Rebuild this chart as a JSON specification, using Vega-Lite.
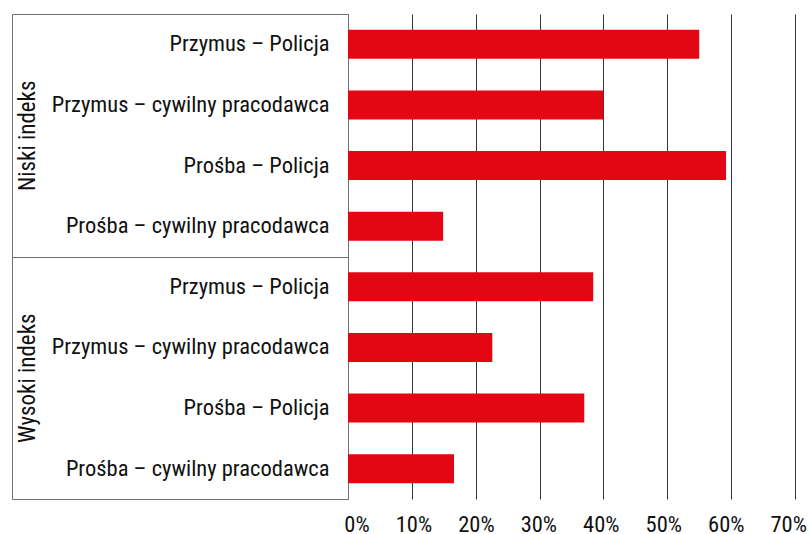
{
  "$schema": "https://vega.github.io/schema/vega-lite/v6.json",
  "width": 447,
  "height": 485,
  "padding": {"left": 11, "top": 13, "right": 5, "bottom": 0},
  "background": "white",
  "config": {
    "view": {"stroke": null},
    "font": "Roboto Condensed, Liberation Sans Narrow, Roboto, sans-serif"
  },
  "data": {
    "values": [
      {"group": "Niski indeks", "key": "Niski indeks|Przymus – Policja", "value": 0.55},
      {"group": "Niski indeks", "key": "Niski indeks|Przymus – cywilny pracodawca", "value": 0.40},
      {"group": "Niski indeks", "key": "Niski indeks|Prośba – Policja", "value": 0.592},
      {"group": "Niski indeks", "key": "Niski indeks|Prośba – cywilny pracodawca", "value": 0.149},
      {"group": "Wysoki indeks", "key": "Wysoki indeks|Przymus – Policja", "value": 0.384},
      {"group": "Wysoki indeks", "key": "Wysoki indeks|Przymus – cywilny pracodawca", "value": 0.226},
      {"group": "Wysoki indeks", "key": "Wysoki indeks|Prośba – Policja", "value": 0.37},
      {"group": "Wysoki indeks", "key": "Wysoki indeks|Prośba – cywilny pracodawca", "value": 0.166}
    ]
  },
  "layer": [
    {
      "mark": {"type": "bar", "color": "#e30613"},
      "encoding": {
        "y": {
          "field": "key", "type": "nominal", "sort": null,
          "scale": {"paddingInner": 0.52, "paddingOuter": 0.26},
          "axis": {
            "title": null, "ticks": false, "domain": true, "domainColor": "#707070",
            "labelExpr": "split(datum.label, '|')[1]",
            "labelFontSize": 22.5, "labelPadding": 19, "labelColor": "#111111", "labelLimit": 400
          }
        },
        "x": {
          "field": "value", "type": "quantitative",
          "scale": {"domain": [0, 0.7], "nice": false},
          "axis": {
            "title": null, "format": ".0%", "values": [0, 0.1, 0.2, 0.3, 0.4, 0.5, 0.6, 0.7],
            "domain": false, "ticks": false, "grid": true, "gridColor": "#333333", "gridOpacity": 1,
            "labelFlush": false, "labelOverlap": false,
            "labelFontSize": 22.5, "labelPadding": 14, "labelColor": "#111111",
            "labelOffset": {"condition": {"test": "datum.value === 0", "value": 8.5}, "expr": "3 - 14 * datum.value"}
          }
        }
      }
    },
    {
      "mark": {"type": "point", "opacity": 0},
      "encoding": {
        "y": {
          "field": "group", "type": "nominal", "sort": null,
          "scale": {"paddingInner": 0, "paddingOuter": 0},
          "axis": {
            "orient": "left", "offset": 336, "title": null,
            "tickBand": "extent", "tickSize": -336, "tickColor": "#707070", "domainColor": "#707070",
            "labelAngle": -90, "labelAlign": "center", "labelBaseline": "middle",
            "labelPadding": 321, "labelFontSize": 23, "labelColor": "#111111"
          }
        },
        "x": {"field": "value", "type": "quantitative"}
      }
    }
  ],
  "resolve": {"scale": {"y": "independent"}}
}
